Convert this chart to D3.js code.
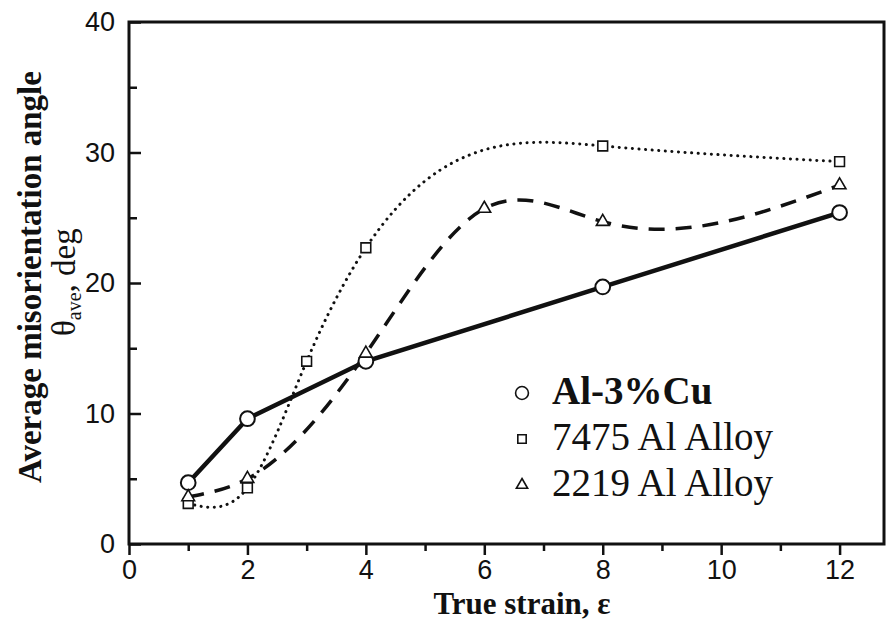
<!DOCTYPE html>
<html lang="en">
<head>
  <meta charset="UTF-8">
  <script src="https://d3js.org/d3.v7.min.js"></script>
  <style>
    body { margin: 0; background: #fff; }
    svg { display: block; }
    .tick text { font-family: "Liberation Sans", Arial, sans-serif; font-size: 27px; fill: #111; }
    .serif { font-family: "Liberation Serif", "Times New Roman", serif; fill: #111; }
  </style>
</head>
<body>
<div id="chart"></div>
<script>
// values
const strainCu = [1, 2, 4, 8, 12];
const angleCu = [4.7, 9.6, 14.0, 19.7, 25.4];

const strain7475 = [1, 2, 3, 4, 8, 12];
const angle7475 = [3.1, 4.3, 14.0, 22.7, 30.5, 29.3];

const strain2219 = [1, 2, 4, 6, 8, 12];
const angle2219 = [3.6, 5.0, 14.6, 25.7, 24.7, 27.5];

const xMajor = [0, 2, 4, 6, 8, 10, 12];
const xMinor = [1, 3, 5, 7, 9, 11];
const yMajor = [0, 10, 20, 30, 40];
const yMinor = [5, 15, 25, 35];

const legendNames = ['Al-3%Cu', '7475 Al Alloy', '2219 Al Alloy'];

// natural cubic spline as a function of x (like Origin's "spline" connect)
function curveSplineX(context) {
  let xs, ys;
  return {
    areaStart() {}, areaEnd() {},
    lineStart() { xs = []; ys = []; },
    point(px, py) { xs.push(+px); ys.push(+py); },
    lineEnd() {
      const n = xs.length;
      if (!n) return;
      context.moveTo(xs[0], ys[0]);
      if (n < 3) { if (n === 2) context.lineTo(xs[1], ys[1]); return; }
      const h = [], s = [];
      for (let i = 0; i < n - 1; i++) {
        h.push(xs[i + 1] - xs[i]);
        s.push((ys[i + 1] - ys[i]) / h[i]);
      }
      // tridiagonal solve for second derivatives
      const M = new Array(n).fill(0);
      const a = [], b = [], c = [], r = [];
      for (let i = 1; i < n - 1; i++) {
        a.push(h[i - 1]); b.push(2 * (h[i - 1] + h[i])); c.push(h[i]);
        r.push(6 * (s[i] - s[i - 1]));
      }
      const m = b.length;
      for (let i = 1; i < m; i++) {
        const w = a[i] / b[i - 1];
        b[i] -= w * c[i - 1];
        r[i] -= w * r[i - 1];
      }
      const sol = new Array(m);
      sol[m - 1] = r[m - 1] / b[m - 1];
      for (let i = m - 2; i >= 0; i--) sol[i] = (r[i] - c[i] * sol[i + 1]) / b[i];
      for (let i = 0; i < m; i++) M[i + 1] = sol[i];
      for (let i = 0; i < n - 1; i++) {
        const d0 = s[i] - h[i] * (2 * M[i] + M[i + 1]) / 6;
        const d1 = s[i] + h[i] * (M[i] + 2 * M[i + 1]) / 6;
        context.bezierCurveTo(
          xs[i] + h[i] / 3, ys[i] + d0 * h[i] / 3,
          xs[i + 1] - h[i] / 3, ys[i + 1] - d1 * h[i] / 3,
          xs[i + 1], ys[i + 1]);
      }
    }
  };
}

const width = 887, height = 620;
const svg = d3.select('#chart').append('svg')
  .attr('width', width)
  .attr('height', height);

const x = d3.scaleLinear().domain([0, 12.75]).range([129, 884]);
const y = d3.scaleLinear().domain([0, 40]).range([544, 22]);

// axes: x ticks point down, y ticks point into the plot
svg.append('g').attr('transform', `translate(0,${y(0)})`)
  .call(d3.axisBottom(x).tickValues(xMajor).tickSize(11).tickPadding(5).tickFormat(d3.format('d')));
svg.append('g').attr('transform', `translate(0,${y(0)})`)
  .call(d3.axisBottom(x).tickValues(xMinor).tickSize(7).tickFormat(''));

svg.append('g').attr('transform', `translate(${x(0)},0)`)
  .call(d3.axisLeft(y).tickValues(yMajor).tickSizeInner(-12).tickSizeOuter(0).tickPadding(14).tickFormat(d3.format('d')));
svg.append('g').attr('transform', `translate(${x(0)},0)`)
  .call(d3.axisLeft(y).tickValues(yMinor).tickSizeInner(-8).tickSizeOuter(0).tickFormat(''));

svg.selectAll('.domain').remove();
svg.selectAll('.tick line').attr('stroke', '#111').attr('stroke-width', 2.5);

// frame
svg.append('rect')
  .attr('x', x(0)).attr('y', y(40))
  .attr('width', x(12.75) - x(0)).attr('height', y(0) - y(40))
  .attr('fill', 'none').attr('stroke', '#111').attr('stroke-width', 3);

// axis titles
svg.append('text').attr('class', 'serif')
  .attr('x', 522).attr('y', 614)
  .attr('text-anchor', 'middle')
  .attr('font-size', 31).attr('font-weight', 'bold')
  .text('True strain, ε');

svg.append('text').attr('class', 'serif')
  .attr('transform', 'translate(41,277) rotate(-90)')
  .attr('text-anchor', 'middle')
  .attr('font-size', 33).attr('font-weight', 'bold')
  .text('Average misorientation angle');

const th = svg.append('text').attr('class', 'serif')
  .attr('transform', 'translate(75,336) rotate(-90)')
  .attr('font-size', 33);
th.append('tspan').text('θ');
th.append('tspan').attr('font-size', 20).attr('dy', 6).text('ave');
th.append('tspan').attr('dy', -6).text(', deg');

// curves
const line = d3.line().x(d => x(d[0])).y(d => y(d[1]));
const zip = (a, b) => a.map((v, i) => [v, b[i]]);

svg.append('path')
  .datum(zip(strain7475, angle7475))
  .attr('d', line.curve(curveSplineX))
  .attr('fill', 'none').attr('stroke', '#111').attr('stroke-width', 3)
  .attr('stroke-linecap', 'round').attr('stroke-dasharray', '0.1,6.5');

svg.append('path')
  .datum(zip(strain2219, angle2219))
  .attr('d', line.curve(curveSplineX))
  .attr('fill', 'none').attr('stroke', '#111').attr('stroke-width', 3.5)
  .attr('stroke-dasharray', '16,11');

svg.append('path')
  .datum(zip(strainCu, angleCu))
  .attr('d', line.curve(d3.curveLinear))
  .attr('fill', 'none').attr('stroke', '#111').attr('stroke-width', 4.5);

// markers
const sym = {
  circle: d3.symbol().type(d3.symbolCircle).size(170),
  square: d3.symbol().type(d3.symbolSquare).size(95),
  triangle: d3.symbol().type(d3.symbolTriangle).size(70)
};

function markers(xs, ys, shape, sw) {
  svg.append('g').selectAll('path')
    .data(zip(xs, ys))
    .join('path')
    .attr('transform', d => `translate(${x(d[0])},${y(d[1])})`)
    .attr('d', sym[shape])
    .attr('fill', '#fff').attr('stroke', '#111').attr('stroke-width', sw);
}
markers(strainCu, angleCu, 'circle', 2);
markers(strain7475, angle7475, 'square', 1.6);
markers(strain2219, angle2219, 'triangle', 1.6);

// legend
const legSizes = [130, 70, 55];
const leg = svg.append('g');
legendNames.forEach((name, i) => {
  const cy = 393 + i * 46;
  leg.append('path')
    .attr('transform', `translate(522,${cy})`)
    .attr('d', d3.symbol().type([d3.symbolCircle, d3.symbolSquare, d3.symbolTriangle][i]).size(legSizes[i]))
    .attr('fill', '#fff').attr('stroke', '#111').attr('stroke-width', 1.6);
  leg.append('text').attr('class', 'serif')
    .attr('x', 552).attr('y', cy + 11)
    .attr('font-size', 39)
    .attr('font-weight', i === 0 ? 'bold' : 'normal')
    .text(name);
});
</script>
</body>
</html>
